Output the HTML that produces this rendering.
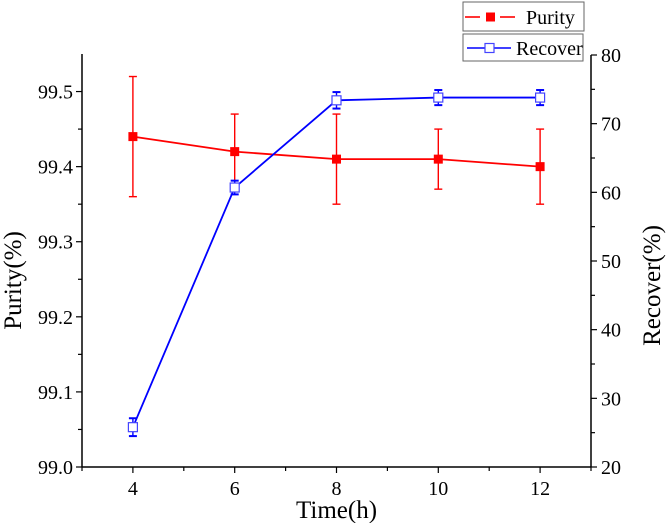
<!DOCTYPE html>
<html><head><meta charset="utf-8"><style>
body{margin:0;background:#fff}
</style></head><body>
<svg id="chart" width="666" height="523" viewBox="0 0 666 523" xmlns="http://www.w3.org/2000/svg" font-family="Liberation Serif, serif">
</svg>
<script>
const times=[4,6,8,10,12];
const purity=[99.44,99.42,99.41,99.41,99.40];
const purityUp=[0.08,0.05,0.06,0.04,0.05];
const purityDown=[0.08,0.05,0.06,0.04,0.05];
const recover=[25.8,60.7,73.4,73.8,73.8];
const recoverErr=[1.3,1.0,1.2,1.1,1.1];
const xTicks=[4,6,8,10,12];
const yLeftTicks=["99.0","99.1","99.2","99.3","99.4","99.5"];
const yRightTicks=[20,30,40,50,60,70,80];

const L=82,R=591,T=54,B=467;
const FF='Liberation Serif, serif';
const xs=v=>L+(v-3)/10*(R-L);
const yl=v=>B-(v-99.0)/0.55*(B-T);
const yr=v=>B-(v-20)/60*(B-55);
const svg=document.getElementById('chart');
const NS='http://www.w3.org/2000/svg';
function mk(tag,attrs,parent){const e=document.createElementNS(NS,tag);for(const k in attrs)e.setAttribute(k,attrs[k]);if(tag==='text')e.setAttribute('font-family',FF);(parent||svg).appendChild(e);return e;}

const axes=mk('g',{});


mk('line',{x1:L,y1:B,x2:R,y2:B,stroke:'#000','stroke-width':1.5},axes);
mk('line',{x1:L,y1:T,x2:L,y2:B,stroke:'#000','stroke-width':1.5},axes);
mk('line',{x1:R,y1:55,x2:R,y2:B,stroke:'#000','stroke-width':1.5},axes);
for(let v=3;v<=13;v++){mk('line',{x1:xs(v),y1:B,x2:xs(v),y2:B+(v%2==0?6:4),stroke:'#000','stroke-width':1.2},axes);}
xTicks.forEach(v=>{const t=mk('text',{x:xs(v),y:B+28,'text-anchor':'middle','font-size':20},axes);t.textContent=v;

});
for(let i=0;i<=10;i++){const v=99.0+i*0.05;mk('line',{x1:L-(i%2==0?6:4),y1:yl(v),x2:L,y2:yl(v),stroke:'#000','stroke-width':1.2},axes);}
yLeftTicks.forEach(s=>{const t=mk('text',{x:L-9,y:yl(parseFloat(s))+7,'text-anchor':'end','font-size':20},axes);t.textContent=s;

});
for(let v=20;v<=80;v+=5){mk('line',{x1:R,y1:yr(v),x2:R+(v%10==0?6:4),y2:yr(v),stroke:'#000','stroke-width':1.2},axes);}
yRightTicks.forEach(v=>{const t=mk('text',{x:R+10,y:yr(v)+7,'font-size':20},axes);t.textContent=v;

});
let t=mk('text',{x:(L+R)/2,y:518,'text-anchor':'middle','font-size':25});t.textContent='Time(h)';


t=mk('text',{x:0,y:0,'text-anchor':'middle','font-size':25,transform:`translate(21,${(T+B)/2+20}) rotate(-90)`});t.textContent='Purity(%)';


t=mk('text',{x:0,y:0,'text-anchor':'middle','font-size':25,transform:`translate(660,${(T+B)/2+25}) rotate(-90)`});t.textContent='Recover(%)';



const pg=mk('g',{});


mk('polyline',{points:times.map((v,i)=>xs(v)+','+yl(purity[i])).join(' '),fill:'none',stroke:'#f00','stroke-width':1.8},pg);
times.forEach((v,i)=>{const x=xs(v),y1=yl(purity[i]+purityUp[i]),y2=yl(purity[i]-purityDown[i]);
mk('line',{x1:x,y1:y1,x2:x,y2:y2,stroke:'#f00','stroke-width':1.4},pg);
mk('line',{x1:x-4,y1:y1,x2:x+4,y2:y1,stroke:'#f00','stroke-width':1.4},pg);
mk('line',{x1:x-4,y1:y2,x2:x+4,y2:y2,stroke:'#f00','stroke-width':1.4},pg);
const m=mk('rect',{x:x-4.5,y:yl(purity[i])-4.5,width:9,height:9,fill:'#f00'},pg);

});

const rg=mk('g',{});


mk('polyline',{points:times.map((v,i)=>xs(v)+','+yr(recover[i])).join(' '),fill:'none',stroke:'#00f','stroke-width':1.8},rg);
times.forEach((v,i)=>{const x=xs(v),y1=yr(recover[i]+recoverErr[i]),y2=yr(recover[i]-recoverErr[i]);
mk('line',{x1:x,y1:y1,x2:x,y2:y2,stroke:'#00f','stroke-width':1.4},rg);
mk('line',{x1:x-4,y1:y1,x2:x+4,y2:y1,stroke:'#00f','stroke-width':2},rg);
mk('line',{x1:x-4,y1:y2,x2:x+4,y2:y2,stroke:'#00f','stroke-width':2},rg);
const m=mk('rect',{x:x-4.5,y:yr(recover[i])-4.5,width:9,height:9,fill:'#fff',stroke:'#44f','stroke-width':1.2},rg);

});

const lg1=mk('g',{});


mk('rect',{x:463,y:2,width:121,height:29,fill:'#fff',stroke:'#666','stroke-width':1},lg1);
mk('line',{x1:465,y1:17,x2:480,y2:17,stroke:'#f00','stroke-width':1.6},lg1);
mk('line',{x1:500,y1:17,x2:515,y2:17,stroke:'#f00','stroke-width':1.6},lg1);
mk('rect',{x:486,y:12.5,width:9,height:9,fill:'#f00'},lg1);
t=mk('text',{x:526,y:24,'font-size':20},lg1);t.textContent='Purity';
const lg2=mk('g',{});


mk('rect',{x:463,y:34,width:120,height:27,fill:'#fff',stroke:'#666','stroke-width':1},lg2);
mk('line',{x1:467,y1:48,x2:485,y2:48,stroke:'#00f','stroke-width':1.6},lg2);
mk('line',{x1:494,y1:48,x2:511,y2:48,stroke:'#00f','stroke-width':1.6},lg2);
mk('rect',{x:485,y:43.5,width:9,height:9,fill:'#fff',stroke:'#44f','stroke-width':1.2},lg2);
t=mk('text',{x:516,y:55,'font-size':20},lg2);t.textContent='Recover';
</script>
</body></html>
